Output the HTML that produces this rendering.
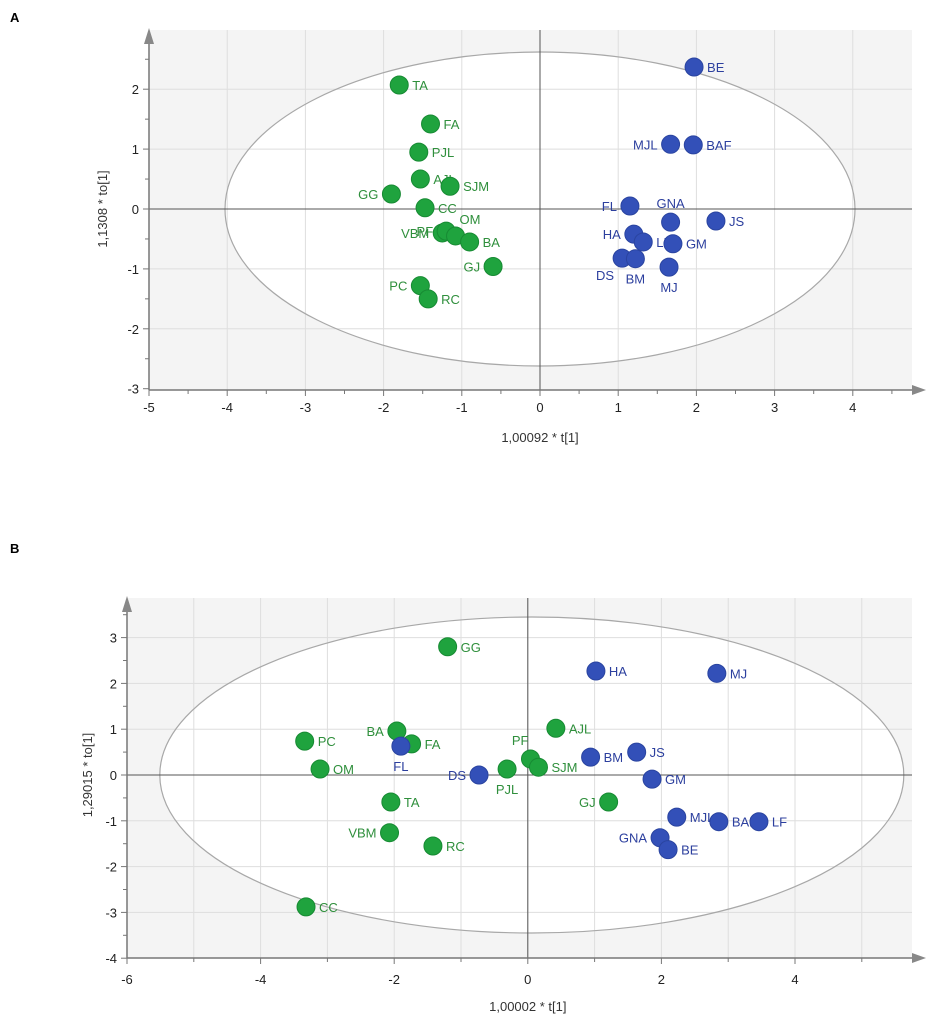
<!DOCTYPE html>
<html><head><meta charset="utf-8"><style>
body{margin:0;background:#fff;width:941px;height:1024px;overflow:hidden;font-family:"Liberation Sans",sans-serif}
svg text{font-family:"Liberation Sans",sans-serif}
</style></head><body>
<svg id="s" width="941" height="1024" xmlns="http://www.w3.org/2000/svg">
<text x="10" y="22" font-size="13" font-weight="bold">A</text>
<text x="10" y="553" font-size="13" font-weight="bold">B</text>
</svg>
<script>
// Panel A data
const aNames=["TA","FA","PJL","AJL","SJM","GG","CC","VBM","PF","OM","BA","GJ","PC","RC","BE","MJL","BAF","FL","GNA","JS","HA","LF","GM","DS","BM","MJ"];
const aX=[-1.8,-1.4,-1.55,-1.53,-1.15,-1.9,-1.47,-1.25,-1.2,-1.08,-0.9,-0.6,-1.53,-1.43,1.97,1.67,1.96,1.15,1.67,2.25,1.2,1.32,1.7,1.05,1.22,1.65];
const aY=[2.07,1.42,0.95,0.5,0.38,0.25,0.02,-0.4,-0.37,-0.45,-0.55,-0.96,-1.28,-1.5,2.37,1.08,1.07,0.05,-0.22,-0.2,-0.42,-0.55,-0.58,-0.82,-0.83,-0.97];
const aGroup=["g","g","g","g","g","g","g","g","g","g","g","g","g","g","b","b","b","b","b","b","b","b","b","b","b","b"];
const aLabPos=["r","r","r","r","r","l","r","l","l","ur","r","l","l","r","r","l","r","l","u","r","l","r","r","dl","d","d"];
// Panel B data
const bNames=["GG","PC","OM","BA","FA","TA","VBM","RC","CC","PF","AJL","PJL","SJM","GJ","HA","MJ","FL","DS","BM","JS","GM","MJL","BAF","LF","GNA","BE"];
const bX=[-1.2,-3.34,-3.11,-1.96,-1.74,-2.05,-2.07,-1.42,-3.32,0.04,0.42,-0.31,0.16,1.21,1.02,2.83,-1.9,-0.73,0.94,1.63,1.86,2.23,2.86,3.46,1.98,2.1];
const bY=[2.8,0.74,0.13,0.96,0.68,-0.59,-1.26,-1.55,-2.88,0.35,1.02,0.13,0.17,-0.59,2.27,2.22,0.63,0,0.39,0.5,-0.09,-0.92,-1.02,-1.02,-1.37,-1.63];
const bGroup=["g","g","g","g","g","g","g","g","g","g","g","g","g","g","b","b","b","b","b","b","b","b","b","b","b","b"];
const bLabPos=["r","r","r","l","r","r","l","r","r","ul","r","d","r","l","r","r","d","l","r","r","r","r","r","r","l","r"];
const aXTicks=[-5,-4,-3,-2,-1,0,1,2,3,4];
const aYTicks=[-3,-2,-1,0,1,2];
const bXTicks=[-6,-4,-2,0,2,4];
const bYTicks=[-4,-3,-2,-1,0,1,2,3];

const NS="http://www.w3.org/2000/svg";
const svg=document.getElementById('s');
function mk(tag,attrs,parent){const e=document.createElementNS(NS,tag);for(const k in attrs)e.setAttribute(k,attrs[k]);(parent||svg).appendChild(e);return e;}

function panel(p){
  const g=mk('g',{});
  
  
  const sx=v=>p.x0+(v-p.xmin)*p.kx, sy=v=>p.y0-v*p.ky;
  const ox=sx(0);
  const bg=mk('rect',{x:p.L,y:p.T,width:p.R-p.L,height:p.B-p.T,fill:'#f4f4f4'},g);
  
  
  mk('ellipse',{cx:ox+p.ecx,cy:p.y0,rx:p.erx,ry:p.ery,fill:'#fff',stroke:'none'},g);
  for(let v=Math.ceil(p.xmin);sx(v)<=p.R;v++){if(v===p.xmin)continue;const l=mk('line',{x1:sx(v),x2:sx(v),y1:p.T,y2:p.B,stroke:'#dedede'},g);}
  for(let v=Math.ceil(p.ymin)+1;sy(v)>=p.T;v++){const l=mk('line',{x1:p.L,x2:p.R,y1:sy(v),y2:sy(v),stroke:'#dedede'},g);}
  const eo=mk('ellipse',{cx:ox+p.ecx,cy:p.y0,rx:p.erx,ry:p.ery,fill:'none',stroke:'#a8a8a8','stroke-width':1.2},g);
  
  
  mk('line',{x1:ox,x2:ox,y1:p.T,y2:p.B,stroke:'#555'},g);
  mk('line',{x1:p.L,x2:p.R,y1:p.y0,y2:p.y0,stroke:'#555'},g);
  mk('line',{x1:p.L,x2:p.L,y1:p.B,y2:p.T+8,stroke:'#777','stroke-width':1.5},g);
  mk('polygon',{points:`${p.L-5},${p.T+14} ${p.L+5},${p.T+14} ${p.L},${p.T-2}`,fill:'#888'},g);
  mk('line',{x1:p.L,x2:p.R+2,y1:p.B,y2:p.B,stroke:'#777','stroke-width':1.5},g);
  mk('polygon',{points:`${p.R},${p.B-5} ${p.R},${p.B+5} ${p.R+14},${p.B}`,fill:'#888'},g);
  for(let v=p.xmin;sx(v)<=p.R;v+=0.5*p.xstep){mk('line',{x1:sx(v),x2:sx(v),y1:p.B,y2:p.B+(Number.isInteger(v/p.xstep)?6:4),stroke:'#777'},g);}
  for(let v=p.ymin;sy(v)>=p.T+10;v+=0.5){mk('line',{x1:p.L-(Number.isInteger(v)?6:4),x2:p.L,y1:sy(v),y2:sy(v),stroke:'#777'},g);}
  p.xt.forEach(v=>{const t=mk('text',{x:sx(v),y:p.B+p.xtOff,'font-size':13,'text-anchor':'middle',fill:'#222'},g);t.textContent=v;});
  p.yt.forEach(v=>{const t=mk('text',{x:p.L-10,y:sy(v)+5,'font-size':13,'text-anchor':'end',fill:'#222'},g);t.textContent=v;});
  const xt=mk('text',{x:ox,y:p.B+p.titleOff,'font-size':13,'text-anchor':'middle',fill:'#333'},g);xt.textContent=p.xtitle;
  
  const yt=mk('text',{x:0,y:0,'font-size':13,'text-anchor':'middle',fill:'#333',transform:`translate(${p.ytx},${p.y0}) rotate(-90)`},g);yt.textContent=p.ytitle;
  
  p.names.forEach((n,i)=>{
    const cx=sx(p.xs[i]),cy=sy(p.ys[i]);const blue=p.grp[i]==='b';
    const c=mk('circle',{cx:cx,cy:cy,r:9,fill:blue?'#3350b8':'#1fa33e',stroke:blue?'#2a44a0':'#178a33'},g);
    
    
    const pos=p.lp[i];let lx=cx+13,ly=cy+5,anc='start';
    if(pos==='l'){lx=cx-13;anc='end';}
    if(pos==='u'){lx=cx;ly=cy-14;anc='middle';}
    if(pos==='d'){lx=cx;ly=cy+25;anc='middle';}
    if(pos==='dl'){lx=cx-8;ly=cy+22;anc='end';}
    if(pos==='ul'){lx=cx-2;ly=cy-14;anc='end';}
    if(pos==='ur'){lx=cx+4;ly=cy-12;anc='start';}
    const t=mk('text',{x:lx,y:ly,'font-size':13,'text-anchor':anc,fill:blue?'#2c3f9e':'#2f8f3c'},g);t.textContent=n;
    
    
  });
}
panel({id:'panel-a',L:149,T:30,R:912,B:390,x0:149,xmin:-5,kx:78.2,y0:209,ymin:-3,ky:59.9,xstep:1,
  ecx:0,erx:315,ery:157,xt:aXTicks,yt:aYTicks,xtitle:'1,00092 * t[1]',ytitle:'1,1308 * to[1]',ytx:107,xtOff:22,titleOff:52,
  names:aNames,xs:aX,ys:aY,grp:aGroup,lp:aLabPos});
panel({id:'panel-b',L:127,T:598,R:912,B:958,x0:127,xmin:-6,kx:66.8,y0:775,ymin:-4,ky:45.8,xstep:2,
  ecx:4,erx:372,ery:158,xt:bXTicks,yt:bYTicks,xtitle:'1,00002 * t[1]',ytitle:'1,29015 * to[1]',ytx:92,xtOff:26,titleOff:53,
  names:bNames,xs:bX,ys:bY,grp:bGroup,lp:bLabPos});
</script>
</body></html>
